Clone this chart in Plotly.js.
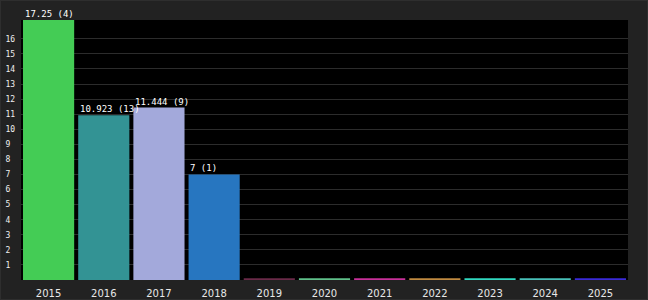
<!DOCTYPE html>
<html><head><meta charset="utf-8">
<script src="https://cdn.plot.ly/plotly-3.0.1.min.js"></script>
<style>
html,body{margin:0;padding:0;background:#222;}
#chart{width:646px;height:298px;border:1px solid #2e2e2e;}
</style></head>
<body><div id="chart"></div>
<script>
const years = ['2015','2016','2017','2018','2019','2020','2021','2022','2023','2024','2025'];
const values = [17.25, 10.923, 11.444, 7, 0.12, 0.12, 0.12, 0.12, 0.12, 0.12, 0.12];
const counts = [4, 13, 9, 1, null, null, null, null, null, null, null];
const labels = ['17.25 (4)', '10.923 (13)', '11.444 (9)', '7 (1)', '', '', '', '', '', '', ''];
const colors = ['#44cc55', '#339394', '#a3a9db', '#2776c0', '#6a2a48', '#5fc08a', '#c8309a', '#c08a40', '#30d8c0', '#48c0b8', '#3a2ad8'];
const yTickVals = [1,2,3,4,5,6,7,8,9,10,11,12,13,14,15,16];
const yTickText = yTickVals.map(v => String(v).length < 2 ? String(v) + '\u00a0\u00a0' : String(v) + '\u00a0');

const trace = {
  type: 'bar', x: years, y: values,
  marker: {color: colors, line: {width: 0, color: 'rgba(0,0,0,0)'}},
  hoverinfo: 'none'
};
const annotations = [];
labels.forEach((t, i) => {
  if (!t) return;
  annotations.push({
    x: i, y: values[i], xref: 'x', yref: 'y',
    text: t, showarrow: false, xanchor: 'left', yanchor: 'bottom',
    xshift: -25, borderpad: 0,
    font: {family: 'DejaVu Sans Mono, monospace', size: 9, color: '#ffffff'}
  });
});

const layout = {
  width: 646, height: 298,
  margin: {l: 20, r: 19, t: 19, b: 19, pad: 0},
  paper_bgcolor: '#222222', plot_bgcolor: '#000000',
  showlegend: false, bargap: 0.073,
  xaxis: {type: 'category', categoryorder: 'array', categoryarray: years,
    showgrid: false, zeroline: false, showline: false,
    ticks: 'outside', ticklen: 4, tickcolor: 'rgba(0,0,0,0)',
    tickfont: {family: 'DejaVu Sans, sans-serif', size: 10, color: '#e8e8e8'}},
  yaxis: {range: [0, 17.25], tickmode: 'array', tickvals: yTickVals, ticktext: yTickText, showgrid: true,
    gridcolor: '#2c2c2c', gridwidth: 1, zeroline: false, showline: false, ticks: '',
    tickfont: {family: 'DejaVu Sans Mono, monospace', size: 8, color: '#f0f0f0'}},
  annotations: annotations
};
Plotly.newPlot('chart', [trace], layout, {staticPlot: true, displayModeBar: false});
</script></body></html>
